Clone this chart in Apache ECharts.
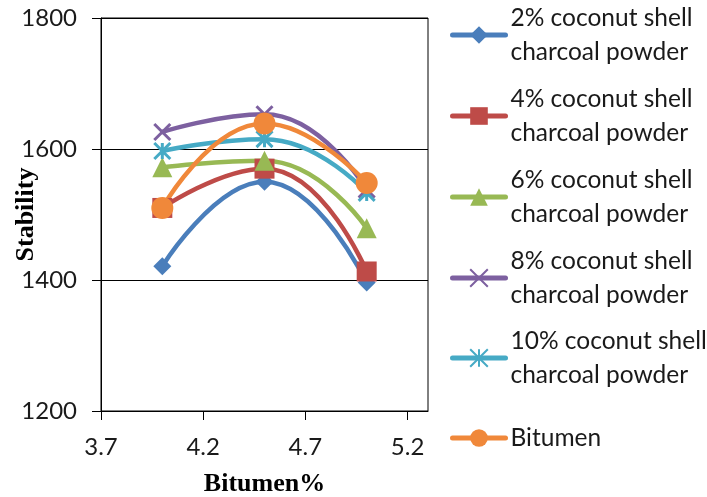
<!DOCTYPE html>
<html><head><meta charset="utf-8">
<script src="https://cdn.jsdelivr.net/npm/echarts@6/dist/echarts.min.js"></script>
<style>html,body{margin:0;padding:0;background:#fff}#c{width:707px;height:497px}</style>
</head><body><div id="c"></div>
<script>
const bitumenPct = [4.0, 4.5, 5.0];
const seriesNames = [
  '2% coconut shell\ncharcoal powder',
  '4% coconut shell\ncharcoal powder',
  '6% coconut shell\ncharcoal powder',
  '8% coconut shell\ncharcoal powder',
  '10% coconut shell\ncharcoal powder',
  'Bitumen'
];
const coconut2 = [1421, 1550, 1396];
const coconut4 = [1510, 1570, 1413];
const coconut6 = [1572, 1582, 1479];
const coconut8 = [1626, 1653, 1538];
const coconut10 = [1597, 1615, 1533];
const bitumen = [1510, 1639, 1548];
const yTicks = [1200, 1400, 1600, 1800];
const xTicks = [3.7, 4.2, 4.7, 5.2];

const values = [coconut2, coconut4, coconut6, coconut8, coconut10, bitumen];
const colors = ['#4A7EBB', '#BE4B48', '#98B954', '#7D60A0', '#46AAC5', '#F0883A'];
const symbols = [
  'diamond', 'rect', 'triangle',
  'path://M0,0L20,20M20,0L0,20',
  'path://M0,0L20,20M20,0L0,20M10,0L10,20',
  'circle'
];
const symbolSizes = [18, 20, 20, 16, 16, 22];

const series = values.map((v, i) => ({
  name: seriesNames[i],
  type: 'line',
  smooth: 0.5,
  data: bitumenPct.map((x, j) => [x, v[j]]),
  symbol: symbols[i],
  symbolSize: symbolSizes[i],
  showAllSymbol: true,
  lineStyle: { color: colors[i], width: 4.5, cap: 'round' },
  itemStyle: i === 3 || i === 4
    ? { color: colors[i], borderColor: colors[i], borderWidth: 3 }
    : { color: colors[i], borderWidth: 0 },
  emphasis: { disabled: true }
}));

const iconCenters = [35, 116, 197, 278, 358, 438];
const L = 34;
const legends = seriesNames.map((n, i) => {
  const twoLine = n.indexOf('\n') >= 0;
  const top = twoLine ? iconCenters[i] - 11 - (1.5 * L - 11) : iconCenters[i] - L / 2;
  return {
    data: [n],
    left: 450,
    top: top,
    padding: 0,
    orient: 'vertical',
    itemWidth: 53,
    itemHeight: 22,
    itemGap: 0,
    selectedMode: false,
    lineStyle: { width: 5, cap: 'round' },
    textStyle: {
      fontFamily: 'Lato', fontSize: 24.5, color: '#1a1a1a', lineHeight: L,
      padding: twoLine ? [L, 0, 0, 0] : 0
    }
  };
});

const chart = echarts.init(document.getElementById('c'), null, { renderer: 'canvas' });
chart.setOption({
  animation: false,
  backgroundColor: '#fff',
  grid: { left: 101, top: 18, right: 279, bottom: 86, show: true, borderColor: '#000', borderWidth: 1,
    containLabel: false, outerBoundsMode: 'none' },
  legend: legends,
  xAxis: {
    type: 'value', min: 3.7, max: 5.3, interval: 0.5,
    name: 'Bitumen%', nameLocation: 'middle', nameGap: 60, nameMoveOverlap: false,
    nameTextStyle: { fontFamily: 'Liberation Serif', fontWeight: 'bold', fontSize: 26, color: '#000' },
    axisLine: { show: true, lineStyle: { color: '#000', width: 1 } },
    axisTick: { show: true, length: 9, inside: false, lineStyle: { color: '#000' } },
    axisLabel: { showMaxLabel: false, margin: 24, fontFamily: 'Lato', fontSize: 24, color: '#1a1a1a',
      formatter: v => xTicks.find(t => Math.abs(t - v) < 1e-6)?.toFixed(1) ?? '' },
    splitLine: { show: false }
  },
  yAxis: {
    type: 'value', min: 1200, max: 1800, interval: 200,
    name: 'Stability', nameLocation: 'middle', nameGap: 62, nameMoveOverlap: false,
    nameTextStyle: { fontFamily: 'Liberation Serif', fontWeight: 'bold', fontSize: 26, color: '#000' },
    axisLine: { show: true, lineStyle: { color: '#000', width: 1 } },
    axisTick: { show: true, length: 9, inside: false, lineStyle: { color: '#000' } },
    axisLabel: { margin: 24, fontFamily: 'Lato', fontSize: 24, color: '#1a1a1a',
      formatter: v => yTicks.includes(v) ? String(v) : '' },
    splitLine: { show: true, lineStyle: { color: '#000', width: 1 } }
  },
  series: series
});
</script>
</body></html>
